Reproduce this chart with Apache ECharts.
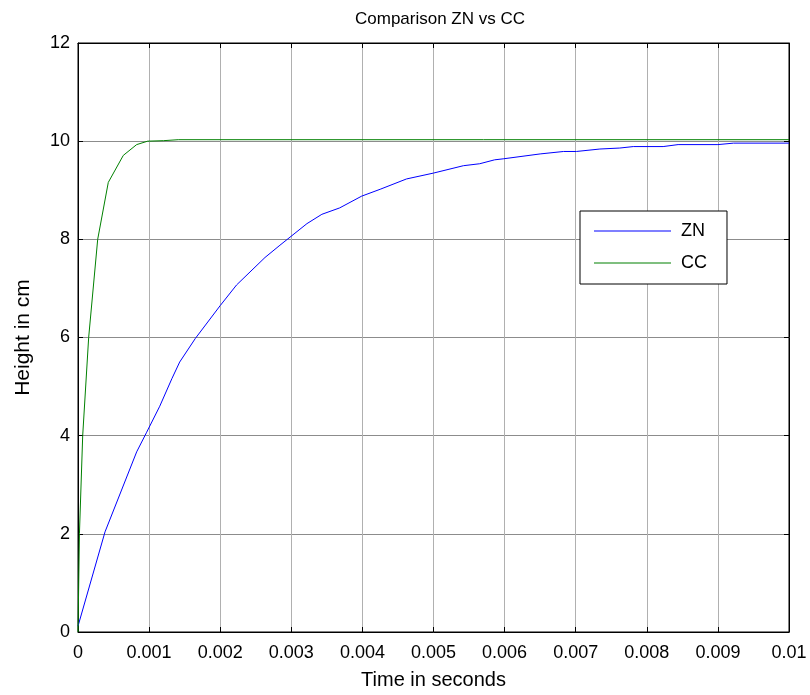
<!DOCTYPE html>
<html>
<head>
<meta charset="utf-8">
<script src="https://cdn.jsdelivr.net/npm/echarts@6/dist/echarts.min.js"></script>
<style>
html,body{margin:0;padding:0;background:#fff;}
#chart{width:810px;height:695px;}
</style>
</head>
<body>
<div id="chart"></div>
<script>
const titleText = 'Comparison ZN vs CC';
const xAxisName = 'Time in seconds';
const yAxisName = 'Height in cm';
const xTickLabels = ['0','0.001','0.002','0.003','0.004','0.005','0.006','0.007','0.008','0.009','0.01'];
const yTickLabels = ['0','2','4','6','8','10','12'];
const seriesNames = ['ZN','CC'];

const znTime = [0, 0.00038, 0.000825, 0.000966, 0.00115, 0.00132, 0.00143, 0.00165, 0.002, 0.00223, 0.00263, 0.00284, 0.00322, 0.00343, 0.00368, 0.00399, 0.00425, 0.00462, 0.005, 0.00542, 0.00565, 0.00586, 0.00598, 0.0065, 0.00683, 0.00701, 0.00734, 0.00762, 0.00781, 0.00823, 0.00844, 0.009, 0.00922, 0.01];
const znHeight = [0.12, 2.04, 3.67, 4.07, 4.6, 5.16, 5.5, 5.98, 6.65, 7.07, 7.63, 7.88, 8.32, 8.51, 8.64, 8.88, 9.02, 9.23, 9.35, 9.50, 9.54, 9.62, 9.64, 9.74, 9.79, 9.79, 9.84, 9.86, 9.89, 9.89, 9.93, 9.93, 9.96, 9.96];

const ccTime = [0, 0.00002, 0.000066, 0.00015, 0.000277, 0.000426, 0.000637, 0.000825, 0.00098, 0.0012, 0.00141, 0.01];
const ccHeight = [0, 2.0, 4.0, 6.0, 8.0, 9.16, 9.71, 9.93, 10.0, 10.01, 10.03, 10.03];

const zip = (a, b) => a.map((v, i) => [v, b[i]]);
const fontFam = '"Liberation Sans", Arial, sans-serif';

const chart = echarts.init(document.getElementById('chart'), null, {renderer: 'canvas'});
const xLabelFmt = v => xTickLabels[Math.round(v / 0.001)] ?? '';
const yLabelFmt = v => yTickLabels[Math.round(v / 2)] ?? '';

chart.setOption({
  animation: false,
  backgroundColor: '#fff',
  title: {
    text: titleText,
    left: 435,
    textAlign: 'center',
    top: 6,
    textStyle: {fontFamily: fontFam, fontSize: 17, fontWeight: 'normal', color: '#000'}
  },
  grid: {left: 78, right: 21, top: 43, bottom: 61, show: true, borderColor: '#000', borderWidth: 1, backgroundColor: 'transparent'},
  legend: {
    orient: 'vertical',
    left: 580,
    top: 211,
    padding: [10, 20, 11, 14],
    itemGap: 12,
    itemWidth: 77,
    itemHeight: 1,
    icon: 'rect',
    backgroundColor: '#fff',
    borderColor: '#000',
    borderWidth: 1,
    borderRadius: 0,
    data: seriesNames,
    textStyle: {fontFamily: fontFam, fontSize: 18, color: '#000', lineHeight: 20, padding: [0, 0, 0, 5]}
  },
  xAxis: [{
    type: 'value',
    min: 0, max: 0.01, interval: 0.001,
    name: xAxisName,
    nameLocation: 'middle',
    nameGap: 38,
    nameTextStyle: {fontFamily: fontFam, fontSize: 20, color: '#000'},
    axisLine: {show: true, onZero: false, lineStyle: {color: '#000', width: 1}},
    axisTick: {show: true, inside: true, length: 5, lineStyle: {color: '#000'}},
    axisLabel: {formatter: xLabelFmt, fontFamily: fontFam, fontSize: 18, color: '#000', margin: 12, showMaxLabel: true, showMinLabel: true},
    splitLine: {show: true, lineStyle: {color: '#b0b0b0', width: 1}}
  }, {
    type: 'value',
    position: 'top',
    min: 0, max: 0.01, interval: 0.001,
    axisLine: {show: true, onZero: false, lineStyle: {color: '#000', width: 1}},
    axisTick: {show: true, inside: true, length: 5, lineStyle: {color: '#000'}},
    axisLabel: {show: false},
    splitLine: {show: false}
  }],
  yAxis: [{
    type: 'value',
    min: 0, max: 12, interval: 2,
    name: yAxisName,
    nameLocation: 'middle',
    nameGap: 44,
    nameTextStyle: {fontFamily: fontFam, fontSize: 21, color: '#000'},
    axisLine: {show: true, onZero: false, lineStyle: {color: '#000', width: 1}},
    axisTick: {show: true, inside: true, length: 5, lineStyle: {color: '#000'}},
    axisLabel: {formatter: yLabelFmt, fontFamily: fontFam, fontSize: 18, color: '#000', margin: 8},
    splitLine: {show: true, lineStyle: {color: '#8c8c8c', width: 1}}
  }, {
    type: 'value',
    position: 'right',
    min: 0, max: 12, interval: 2,
    axisLine: {show: true, onZero: false, lineStyle: {color: '#000', width: 1}},
    axisTick: {show: true, inside: true, length: 5, lineStyle: {color: '#000'}},
    axisLabel: {show: false},
    splitLine: {show: false}
  }],
  series: [{
    name: seriesNames[0],
    type: 'line',
    data: zip(znTime, znHeight),
    symbol: 'none',
    smooth: false,
    lineStyle: {color: '#0000ff', width: 1},
    itemStyle: {color: '#0000ff'},
    z: 3
  }, {
    name: seriesNames[1],
    type: 'line',
    data: zip(ccTime, ccHeight),
    symbol: 'none',
    smooth: false,
    lineStyle: {color: '#008000', width: 1},
    itemStyle: {color: '#008000'},
    z: 4
  }]
});
</script>
</body>
</html>
